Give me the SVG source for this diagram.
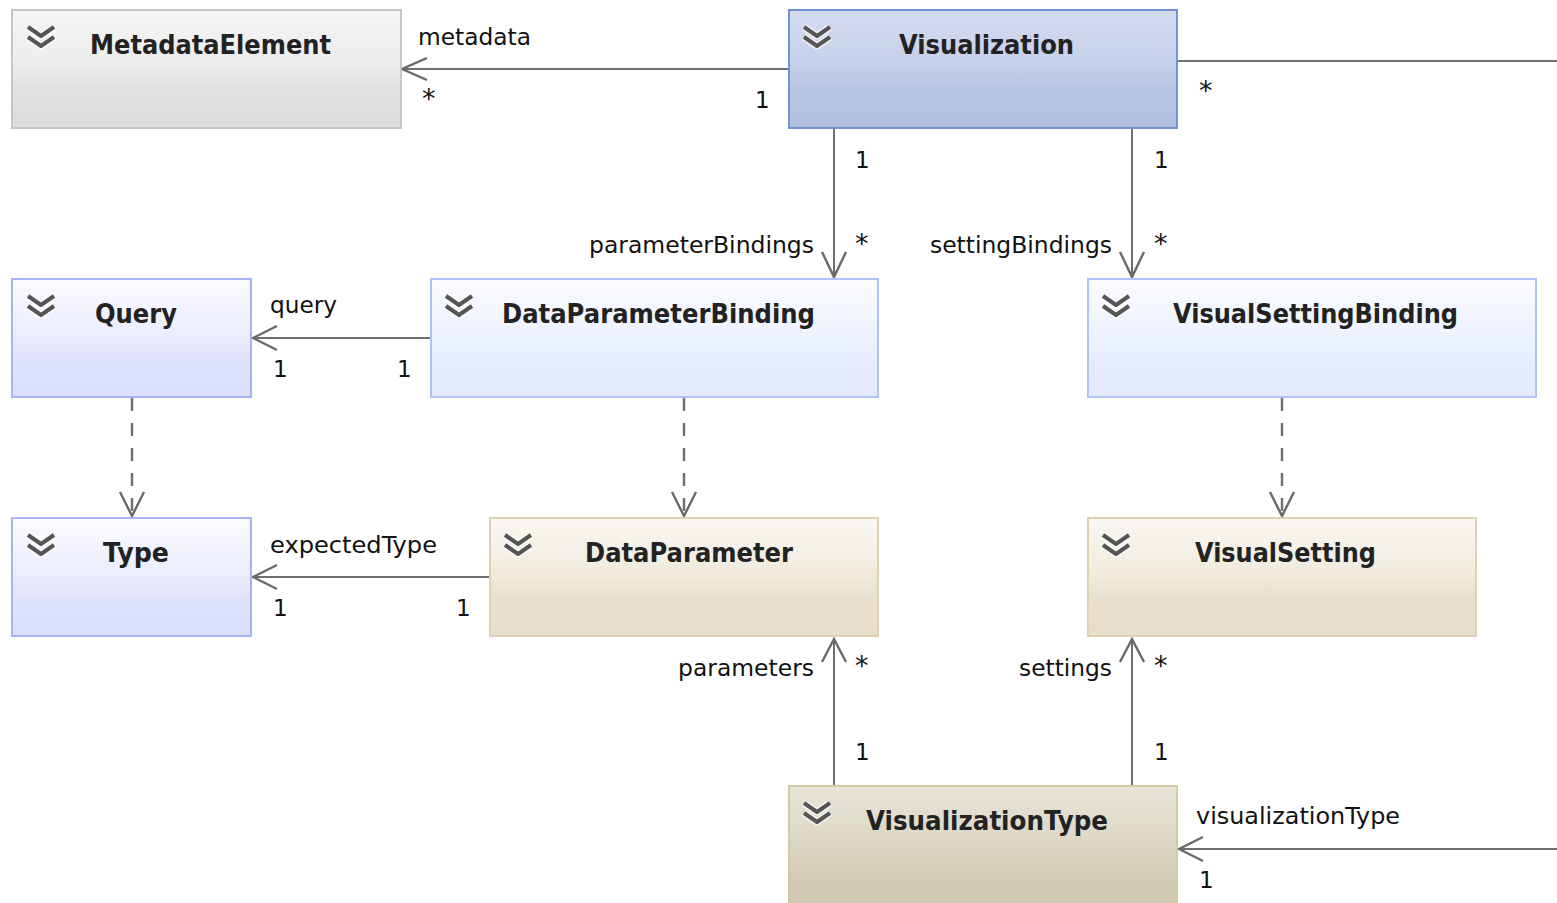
<svg xmlns="http://www.w3.org/2000/svg" width="1557" height="903" viewBox="0 0 1557 903">
<defs>
<linearGradient id="gGray" x1="0" y1="0" x2="0" y2="1">
<stop offset="0" stop-color="#f6f6f6"/><stop offset="0.45" stop-color="#ececec"/><stop offset="0.7" stop-color="#e0e0e0"/><stop offset="1" stop-color="#dcdcdc"/>
</linearGradient>
<linearGradient id="gVis" x1="0" y1="0" x2="0" y2="1">
<stop offset="0" stop-color="#d4dcef"/><stop offset="0.45" stop-color="#c6d0ea"/><stop offset="0.7" stop-color="#b6c3e2"/><stop offset="1" stop-color="#b2bfe0"/>
</linearGradient>
<linearGradient id="gLav" x1="0" y1="0" x2="0" y2="1">
<stop offset="0" stop-color="#fbfbff"/><stop offset="0.45" stop-color="#eceefe"/><stop offset="0.7" stop-color="#dfe2fb"/><stop offset="1" stop-color="#dcdffb"/>
</linearGradient>
<linearGradient id="gBlue" x1="0" y1="0" x2="0" y2="1">
<stop offset="0" stop-color="#fafbff"/><stop offset="0.45" stop-color="#eef3fe"/><stop offset="0.7" stop-color="#e5ecfc"/><stop offset="1" stop-color="#e3eafc"/>
</linearGradient>
<linearGradient id="gTan" x1="0" y1="0" x2="0" y2="1">
<stop offset="0" stop-color="#faf8f3"/><stop offset="0.45" stop-color="#f1ebde"/><stop offset="0.7" stop-color="#e8e0cd"/><stop offset="1" stop-color="#e7dfcb"/>
</linearGradient>
<linearGradient id="gVT" x1="0" y1="0" x2="0" y2="1">
<stop offset="0" stop-color="#e8e4d8"/><stop offset="0.4" stop-color="#ddd8c6"/><stop offset="0.7" stop-color="#d2cbb4"/><stop offset="1" stop-color="#cfc7ae"/>
</linearGradient>
<filter id="soft" x="-20%" y="-20%" width="140%" height="140%"><feGaussianBlur stdDeviation="0.7"/></filter>
<g id="chev">
<polyline points="0,0 13,9 26,0" fill="none" stroke="#fff" stroke-width="7" stroke-linejoin="round" opacity="0.7"/>
<polyline points="0,10 13,19 26,10" fill="none" stroke="#fff" stroke-width="7" stroke-linejoin="round" opacity="0.7"/>
<polyline points="0,0 13,9 26,0" fill="none" stroke="#555" stroke-width="4" filter="url(#soft)"/>
<polyline points="0,10 13,19 26,10" fill="none" stroke="#555" stroke-width="4" filter="url(#soft)"/>
</g>
</defs>
<style>
.title{font-family:"DejaVu Sans",Verdana,sans-serif;font-weight:bold;font-size:26px;fill:#222}
.lbl{font-family:"DejaVu Sans",Verdana,sans-serif;font-size:23px;fill:#111}
.ast{font-family:"DejaVu Sans",Verdana,sans-serif;font-size:27px;fill:#111}
.ln{fill:none;stroke:#707070;stroke-width:2}
.dash{fill:none;stroke:#6e6e6e;stroke-width:2.4;stroke-dasharray:13 12}
.arr{fill:none;stroke:#6a6a6a;stroke-width:2.4;stroke-linejoin:miter}
</style>
<rect width="1557" height="903" fill="#fff"/>

<g id="connectors">
<!-- Visualization -> MetadataElement -->
<line class="ln" x1="788" y1="69" x2="402" y2="69"/>
<polyline class="arr" points="427,58 402,69 427,80"/>
<text class="lbl" x="418" y="45" textLength="113" lengthAdjust="spacingAndGlyphs">metadata</text>
<text class="ast" x="422" y="108">*</text>
<text class="lbl" x="755" y="108">1</text>
<!-- Visualization right -->
<line class="ln" x1="1178" y1="61" x2="1557" y2="61"/>
<text class="ast" x="1199" y="100">*</text>
<!-- Visualization -> DataParameterBinding -->
<line class="ln" x1="834" y1="129" x2="834" y2="277"/>
<polyline class="arr" points="822,252 834,277 846,252"/>
<text class="lbl" x="855" y="168">1</text>
<text class="lbl" x="589" y="253" textLength="225" lengthAdjust="spacingAndGlyphs">parameterBindings</text>
<text class="ast" x="855" y="253">*</text>
<!-- Visualization -> VisualSettingBinding -->
<line class="ln" x1="1132" y1="129" x2="1132" y2="277"/>
<polyline class="arr" points="1120,252 1132,277 1144,252"/>
<text class="lbl" x="1154" y="168">1</text>
<text class="lbl" x="930" y="253" textLength="182" lengthAdjust="spacingAndGlyphs">settingBindings</text>
<text class="ast" x="1154" y="253">*</text>
<!-- DataParameterBinding -> Query -->
<line class="ln" x1="430" y1="338" x2="253" y2="338"/>
<polyline class="arr" points="277,326 253,338 277,350"/>
<text class="lbl" x="270" y="313" textLength="67" lengthAdjust="spacingAndGlyphs">query</text>
<text class="lbl" x="273" y="377">1</text>
<text class="lbl" x="397" y="377">1</text>
<!-- dashed dependencies -->
<line class="dash" x1="132" y1="398" x2="132" y2="515"/>
<polyline class="arr" points="120,492 132,516 144,492"/>
<line class="dash" x1="684" y1="398" x2="684" y2="515"/>
<polyline class="arr" points="672,492 684,516 696,492"/>
<line class="dash" x1="1282" y1="398" x2="1282" y2="515"/>
<polyline class="arr" points="1270,492 1282,516 1294,492"/>
<!-- DataParameter -> Type -->
<line class="ln" x1="489" y1="577" x2="253" y2="577"/>
<polyline class="arr" points="277,565 253,577 277,589"/>
<text class="lbl" x="270" y="553" textLength="167" lengthAdjust="spacingAndGlyphs">expectedType</text>
<text class="lbl" x="273" y="616">1</text>
<text class="lbl" x="456" y="616">1</text>
<!-- VisualizationType -> DataParameter -->
<line class="ln" x1="834" y1="785" x2="834" y2="639"/>
<polyline class="arr" points="822,662 834,639 846,662"/>
<text class="lbl" x="678" y="676" textLength="136" lengthAdjust="spacingAndGlyphs">parameters</text>
<text class="ast" x="855" y="675">*</text>
<text class="lbl" x="855" y="760">1</text>
<!-- VisualizationType -> VisualSetting -->
<line class="ln" x1="1132" y1="785" x2="1132" y2="639"/>
<polyline class="arr" points="1120,662 1132,639 1144,662"/>
<text class="lbl" x="1019" y="676" textLength="93" lengthAdjust="spacingAndGlyphs">settings</text>
<text class="ast" x="1154" y="675">*</text>
<text class="lbl" x="1154" y="760">1</text>
<!-- right -> VisualizationType -->
<line class="ln" x1="1557" y1="849" x2="1179" y2="849"/>
<polyline class="arr" points="1203,837 1179,849 1203,861"/>
<text class="lbl" x="1196" y="824" textLength="204" lengthAdjust="spacingAndGlyphs">visualizationType</text>
<text class="lbl" x="1199" y="888">1</text>
</g>

<g id="MetadataElement">
<rect x="12" y="10" width="389" height="118" fill="url(#gGray)" stroke="#c6c6c6" stroke-width="2"/>
<use href="#chev" x="28" y="27"/>
<text class="title" x="90" y="54" textLength="241" lengthAdjust="spacingAndGlyphs">MetadataElement</text>
</g>
<g id="Visualization">
<rect x="789" y="10" width="388" height="118" fill="url(#gVis)" stroke="#7394d2" stroke-width="2"/>
<use href="#chev" x="804" y="27"/>
<text class="title" x="899" y="54" textLength="175" lengthAdjust="spacingAndGlyphs">Visualization</text>
</g>
<g id="Query">
<rect x="12" y="279" width="239" height="118" fill="url(#gLav)" stroke="#a5b4f4" stroke-width="2"/>
<use href="#chev" x="28" y="296"/>
<text class="title" x="95" y="323" textLength="82" lengthAdjust="spacingAndGlyphs">Query</text>
</g>
<g id="DataParameterBinding">
<rect x="431" y="279" width="447" height="118" fill="url(#gBlue)" stroke="#b0c2f6" stroke-width="2"/>
<use href="#chev" x="446" y="296"/>
<text class="title" x="502" y="323" textLength="313" lengthAdjust="spacingAndGlyphs">DataParameterBinding</text>
</g>
<g id="VisualSettingBinding">
<rect x="1088" y="279" width="448" height="118" fill="url(#gBlue)" stroke="#b0c2f6" stroke-width="2"/>
<use href="#chev" x="1103" y="296"/>
<text class="title" x="1173" y="323" textLength="285" lengthAdjust="spacingAndGlyphs">VisualSettingBinding</text>
</g>
<g id="Type">
<rect x="12" y="518" width="239" height="118" fill="url(#gLav)" stroke="#a5b4f4" stroke-width="2"/>
<use href="#chev" x="28" y="535"/>
<text class="title" x="103" y="562" textLength="66" lengthAdjust="spacingAndGlyphs">Type</text>
</g>
<g id="DataParameter">
<rect x="490" y="518" width="388" height="118" fill="url(#gTan)" stroke="#e0d1b2" stroke-width="2"/>
<use href="#chev" x="505" y="535"/>
<text class="title" x="585" y="562" textLength="208" lengthAdjust="spacingAndGlyphs">DataParameter</text>
</g>
<g id="VisualSetting">
<rect x="1088" y="518" width="388" height="118" fill="url(#gTan)" stroke="#e0d1b2" stroke-width="2"/>
<use href="#chev" x="1103" y="535"/>
<text class="title" x="1195" y="562" textLength="181" lengthAdjust="spacingAndGlyphs">VisualSetting</text>
</g>
<g id="VisualizationType">
<rect x="789" y="786" width="388" height="130" fill="url(#gVT)" stroke="#d4c9a6" stroke-width="2"/>
<use href="#chev" x="804" y="803"/>
<text class="title" x="866" y="830" textLength="242" lengthAdjust="spacingAndGlyphs">VisualizationType</text>
</g>
</svg>
